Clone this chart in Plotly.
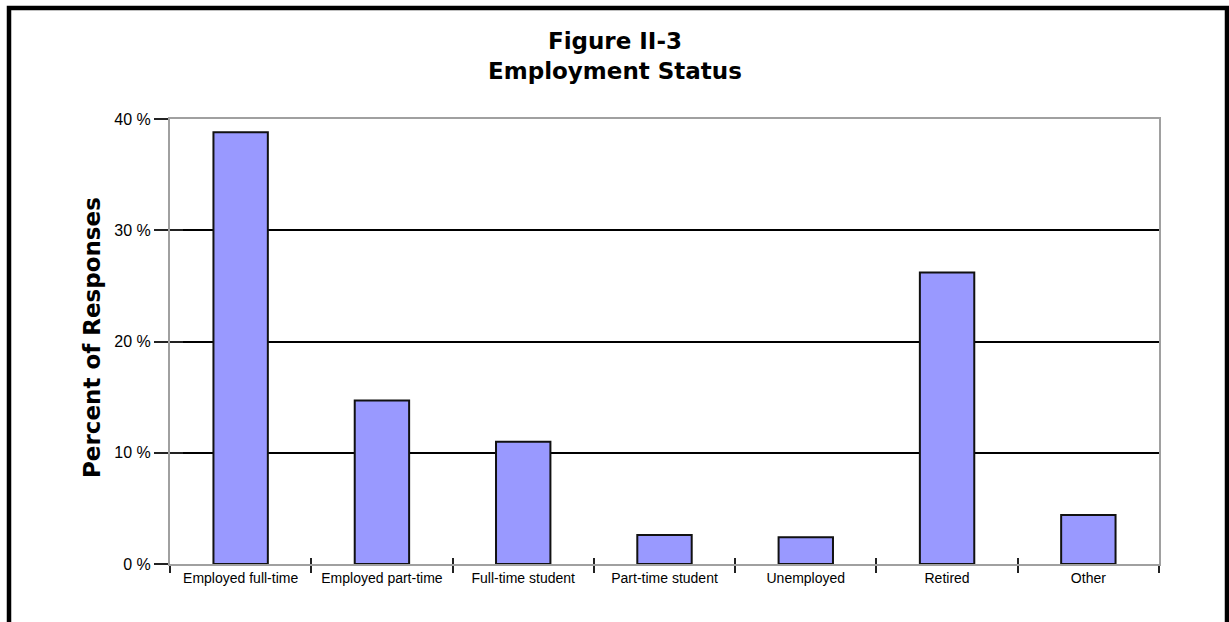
import plotly.graph_objects as go

# Survey results: share of responses by employment status
categories = ["Employed full-time", "Employed part-time", "Full-time student",
              "Part-time student", "Unemployed", "Retired", "Other"]
percent = [38.8, 14.7, 11.0, 2.6, 2.4, 26.2, 4.4]

y_ticks = [0, 10, 20, 30, 40]
y_tick_labels = ["0 %", "10 %", "20 %", "30 %", "40 %"]

W, H = 1229, 622
ML, MR, MT, MB = 170, 70, 119, 58
PW, PH = W - ML - MR, H - MT - MB


def px_x(x):
    return (x - ML) / PW


def px_y(y):
    return (H - MB - y) / PH


fig = go.Figure()

fig.add_trace(go.Bar(
    x=categories, y=percent, width=0.385,
    marker=dict(color="#9999FF", line=dict(color="#111111", width=2)),
    hoverinfo="x+y", showlegend=False,
))

# invisible copy on overlay axes, used only to draw the inner half of the ticks
fig.add_trace(go.Bar(
    x=categories, y=percent, xaxis="x2", yaxis="y2", width=0.385,
    marker=dict(color="rgba(0,0,0,0)", line=dict(width=0)),
    hoverinfo="skip", showlegend=False,
))

axis_gray = "#a0a0a0"

fig.update_layout(
    template="none",
    width=W, height=H, autosize=False,
    margin=dict(l=ML, r=MR, t=MT, b=MB),
    paper_bgcolor="white", plot_bgcolor="white",
    xaxis=dict(
        type="category", categoryorder="array", categoryarray=categories,
        range=[-0.5, 6.5],
        showline=True, linecolor=axis_gray, linewidth=2, mirror=True,
        ticks="outside", tickson="boundaries", ticklen=7, tickwidth=2,
        tickcolor="#222222", showgrid=False, zeroline=False,
        tickfont=dict(family="Liberation Sans, Arial", size=14, color="black"),
        layer="below traces",
    ),
    yaxis=dict(
        range=[0, 40], tickvals=y_ticks, ticktext=y_tick_labels,
        showline=True, linecolor=axis_gray, linewidth=2, mirror=True,
        ticks="outside", ticklen=14, tickwidth=2, tickcolor="#222222",
        showgrid=True, gridcolor="black", gridwidth=2, zeroline=False,
        tickfont=dict(family="Liberation Sans, Arial", size=16, color="black"),
        layer="below traces",
    ),
    xaxis2=dict(
        type="category", categoryorder="array", categoryarray=categories,
        range=[-0.5, 6.5], overlaying="x", anchor="y", side="bottom",
        ticks="inside", tickson="boundaries", ticklen=6, tickwidth=2,
        tickcolor="#222222", showticklabels=False, showline=False,
        showgrid=False, zeroline=False,
    ),
    yaxis2=dict(
        range=[0, 40], tickvals=y_ticks, overlaying="y", anchor="x", side="left",
        ticks="inside", ticklen=13, tickwidth=2, tickcolor="#222222",
        showticklabels=False, showline=False, showgrid=False, zeroline=False,
    ),
    annotations=[
        dict(
            text="<b>Figure II-3<br>Employment Status</b>",
            x=px_x(615), y=px_y(56), xref="paper", yref="paper",
            xanchor="center", yanchor="middle", showarrow=False,
            font=dict(family="DejaVu Sans", size=23, color="black"),
        ),
        dict(
            text="<b>Percent of Responses</b>", textangle=-90,
            x=px_x(92), y=px_y(338), xref="paper", yref="paper",
            xanchor="center", yanchor="middle", showarrow=False,
            font=dict(family="DejaVu Sans", size=23, color="black"),
        ),
    ],
    shapes=[
        dict(
            type="rect", xref="paper", yref="paper",
            x0=px_x(9), x1=px_x(1227), y0=px_y(640), y1=px_y(8),
            line=dict(color="black", width=4.5), fillcolor="rgba(0,0,0,0)",
            layer="above",
        ),
    ],
)

fig.write_html("out.html")
